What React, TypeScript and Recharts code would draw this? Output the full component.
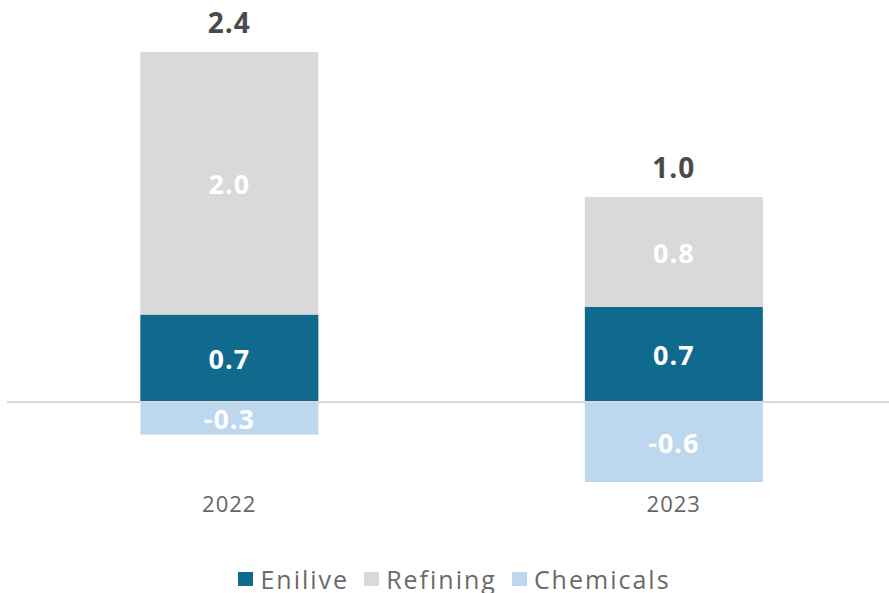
import React from 'react';
import { BarChart, Bar, XAxis, YAxis, ReferenceLine, LabelList, Legend } from 'recharts';

const years = ['2022', '2023'];
const enilive = [0.70, 0.76];
const refining = [2.10, 0.88];
const chemicals = [-0.26, -0.64];

// published labels (rounded figures as printed on the slide)
const enliveLabels = ['0.7', '0.7'];
const refiningLabels = ['2.0', '0.8'];
const chemicalsLabels = ['-0.3', '-0.6'];
const totalLabels = ['2.4', '1.0'];

const COLORS = { Enilive: '#106a8e', Refining: '#d9d9d9', Chemicals: '#bdd7ee' };
const FONT = '"Open Sans", "DejaVu Sans", sans-serif';

const data = years.map((year, i) => ({
    year,
    Enilive: enilive[i],
    Refining: refining[i],
    Chemicals: chemicals[i],
}));

const insideLabel = (labels) => (props) => {
    const { x, y, width, height, index } = props;
    return (
        <text
            x={x + width / 2}
            y={y + height / 2}
            textAnchor="middle"
            dominantBaseline="central"
            fill="#ffffff"
            fontFamily={FONT}
            fontWeight={700}
            fontSize={27}
            letterSpacing={1}
        >
            {labels[index]}
        </text>
    );
};

const totalLabel = (props) => {
    const { x, y, width, index } = props;
    return (
        <text
            x={x + width / 2}
            y={y - 19}
            textAnchor="middle"
            fill="#4a4a4a"
            fontFamily={FONT}
            fontWeight={700}
            fontSize={28}
            letterSpacing={1}
        >
            {totalLabels[index]}
        </text>
    );
};

const renderLegend = () => (
    <div style={{ display: 'flex', justifyContent: 'center', alignItems: 'center', height: 30, fontFamily: FONT, fontSize: 25, letterSpacing: 2, color: '#6a6a6a', paddingLeft: 35 }}>
        {Object.keys(COLORS).map((name) => (
            <span key={name} style={{ display: 'flex', alignItems: 'center', marginRight: 15 }}>
                <span style={{ width: 15, height: 14, background: COLORS[name], marginRight: 7, display: 'inline-block' }} />
                {name}
            </span>
        ))}
    </div>
);

export default function App() {
    return (
        <div style={{ position: 'absolute', left: 0, top: 0, width: 889, height: 593, overflow: 'hidden', background: '#fff' }}>
            <BarChart
                width={896}
                height={593}
                data={data}
                stackOffset="sign"
                barCategoryGap="30%"
                margin={{ top: 39.5, right: 0, left: 7, bottom: 43.5 }}
            >
                <XAxis
                    dataKey="year"
                    axisLine={false}
                    tickLine={false}
                    tickSize={0}
                    tickMargin={7}
                    height={30}
                    tick={{ fill: '#666666', fontSize: 22, fontFamily: FONT, letterSpacing: 1 }}
                />
                <YAxis hide domain={[-0.7, 2.9]} allowDataOverflow />
                <Legend
                    content={renderLegend}
                    wrapperStyle={{ top: 564, left: 0, width: 889 }}
                />
                <Bar dataKey="Enilive" stackId="a" fill={COLORS.Enilive} isAnimationActive={false}>
                    <LabelList content={insideLabel(enliveLabels)} />
                </Bar>
                <Bar dataKey="Refining" stackId="a" fill={COLORS.Refining} isAnimationActive={false}>
                    <LabelList content={insideLabel(refiningLabels)} />
                    <LabelList content={totalLabel} />
                </Bar>
                <Bar dataKey="Chemicals" stackId="a" fill={COLORS.Chemicals} isAnimationActive={false}>
                    <LabelList content={insideLabel(chemicalsLabels)} />
                </Bar>
                <ReferenceLine y={0} stroke="#d9d9d9" strokeWidth={2} />
            </BarChart>
        </div>
    );
}
